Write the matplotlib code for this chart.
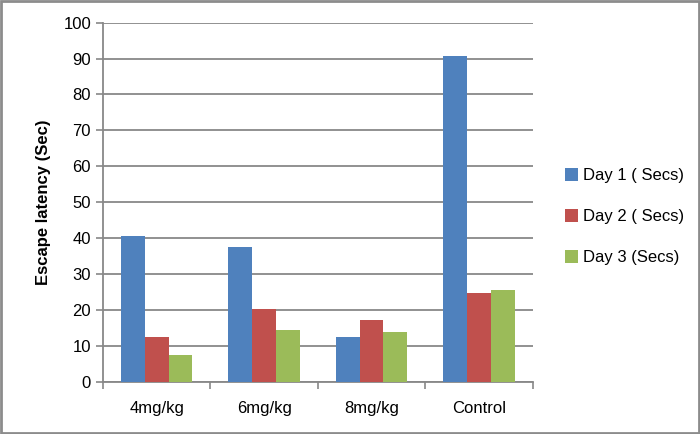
import matplotlib
matplotlib.use("Agg")
import matplotlib.pyplot as plt
import numpy as np
from matplotlib.patches import Rectangle

categories = ["4mg/kg", "6mg/kg", "8mg/kg", "Control"]
series_names = ["Day 1 ( Secs)", "Day 2 ( Secs)", "Day 3 (Secs)"]
day1 = [40.6, 37.6, 12.4, 90.7]
day2 = [12.6, 20.4, 17.2, 24.7]
day3 = [7.6, 14.4, 13.8, 25.7]
colors = ["#4F81BD", "#C0504D", "#9BBB59"]
yticks = [0, 10, 20, 30, 40, 50, 60, 70, 80, 90, 100]

plt.rcParams['font.family'] = ['Liberation Sans', 'DejaVu Sans']

fig = plt.figure(figsize=(7, 4.34), dpi=100)
ax = fig.add_axes([0.147, 0.12, 0.614, 0.828])

x = np.arange(len(categories))
w = 1 / 4.5
for i, (vals, name, c) in enumerate(zip([day1, day2, day3], series_names, colors)):
    ax.bar(x + (i - 1) * w, vals, width=w, color=c, label=name, zorder=3)

ax.set_xlim(-0.5, len(categories) - 0.5)
ax.set_ylim(0, 100)
ax.set_yticks(yticks)
ax.set_xticks(x)
ax.set_xticklabels(categories, fontsize=12)
ax.set_xticks(np.arange(-0.5, len(categories)), minor=True)
ax.tick_params(axis='x', which='major', length=0, pad=14)
ax.tick_params(axis='x', which='minor', length=5, color='#888888', width=1.2)
ax.tick_params(axis='y', length=5, color='#888888', width=1.2, labelsize=12)
ax.grid(axis='y', color='#888888', linewidth=1.3, zorder=0)
for s in ['top', 'right']:
    ax.spines[s].set_visible(False)
for s in ['left', 'bottom']:
    ax.spines[s].set_color('#888888')
    ax.spines[s].set_linewidth(1.3)
ax.set_ylabel("Escape latency (Sec)", fontsize=12, fontweight='bold', labelpad=9)

ax.legend(loc='center left', bbox_to_anchor=(1.04, 0.46), frameon=False,
          fontsize=12, handlelength=0.8, handleheight=0.8, handletextpad=0.3,
          labelspacing=1.55)

fig.patches.append(Rectangle((0.002, 0.003), 0.996, 0.994, transform=fig.transFigure,
                             fill=False, edgecolor='#8c8c8c', linewidth=2))

fig.savefig("out.png", dpi=100)
